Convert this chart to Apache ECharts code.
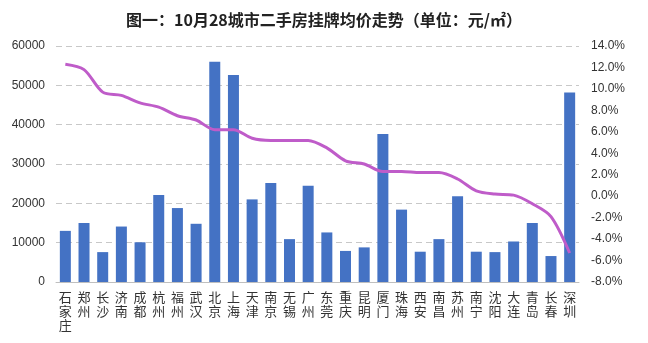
<!DOCTYPE html>
<html><head><meta charset="utf-8">
<script src="https://cdn.jsdelivr.net/npm/echarts@6/dist/echarts.min.js"></script>
<style>html,body{margin:0;padding:0;background:#fff}#c{width:648px;height:343px}</style>
</head><body><div id="c"></div>
<script>
const titleText = '图一：10月28城市二手房挂牌均价走势（单位：元/㎡）';
const cities = ['石家庄','郑州','长沙','济南','成都','杭州','福州','武汉','北京','上海','天津','南京','无锡','广州','东莞','重庆','昆明','厦门','珠海','西安','南昌','苏州','南宁','沈阳','大连','青岛','长春','深圳'];
const prices = [13000,15000,7600,14100,10100,22100,18800,14800,56000,52600,21000,25200,10900,24500,12600,7900,8800,37600,18400,7700,10900,21800,7700,7600,10300,15000,6600,48200];
const changes = [12.3,11.8,9.7,9.4,8.7,8.3,7.5,7.1,6.2,6.2,5.4,5.2,5.2,5.2,4.5,3.3,3.0,2.3,2.3,2.2,2.2,1.6,0.5,0.2,0.1,-0.7,-1.9,-5.3];
const leftTicks = {min:0, max:60000, interval:10000};
const rightTicks = {min:-8, max:14, interval:2};

const font = '"Noto Sans CJK SC", "Noto Sans", sans-serif';
const chart = echarts.init(document.getElementById('c'), null, {renderer:'canvas'});
chart.setOption({
  animation:false,
  backgroundColor:'#fff',
  title:{text:titleText, left:'center', top:7, textStyle:{fontFamily:font, fontSize:16, fontWeight:'bold', color:'#222'}},
  grid:{left:56, right:69, top:46, bottom:61},
  xAxis:{type:'category', data:cities,
    axisLine:{lineStyle:{color:'#bfbfbf'}}, axisTick:{show:false},
    axisLabel:{interval:0, margin:8, fontFamily:font, fontSize:13, lineHeight:14, color:'#333',
      formatter:v=>v.split('').join('\n')}},
  yAxis:[
    {type:'value', min:leftTicks.min, max:leftTicks.max, interval:leftTicks.interval,
     axisLine:{show:false}, axisTick:{show:false},
     axisLabel:{fontFamily:'Liberation Sans, Arial, sans-serif', fontSize:12, color:'#333', margin:11,
       formatter:v=>String(v)},
     splitLine:{lineStyle:{type:[6,4], color:'#c8c8c8'}}},
    {type:'value', min:rightTicks.min, max:rightTicks.max, interval:rightTicks.interval, position:'right',
     axisLine:{show:false}, axisTick:{show:false}, splitLine:{show:false},
     axisLabel:{fontFamily:'Liberation Sans, Arial, sans-serif', fontSize:12, color:'#333', margin:12,
       formatter:v=>v.toFixed(1)+'%'}}
  ],
  series:[
    {type:'bar', data:prices, barWidth:11, itemStyle:{color:'#4472c4'}, yAxisIndex:0},
    {type:'line', data:changes, yAxisIndex:1, smooth:0.3, symbol:'none',
     lineStyle:{color:'#bf5cc9', width:3}, z:5}
  ]
});
</script></body></html>
